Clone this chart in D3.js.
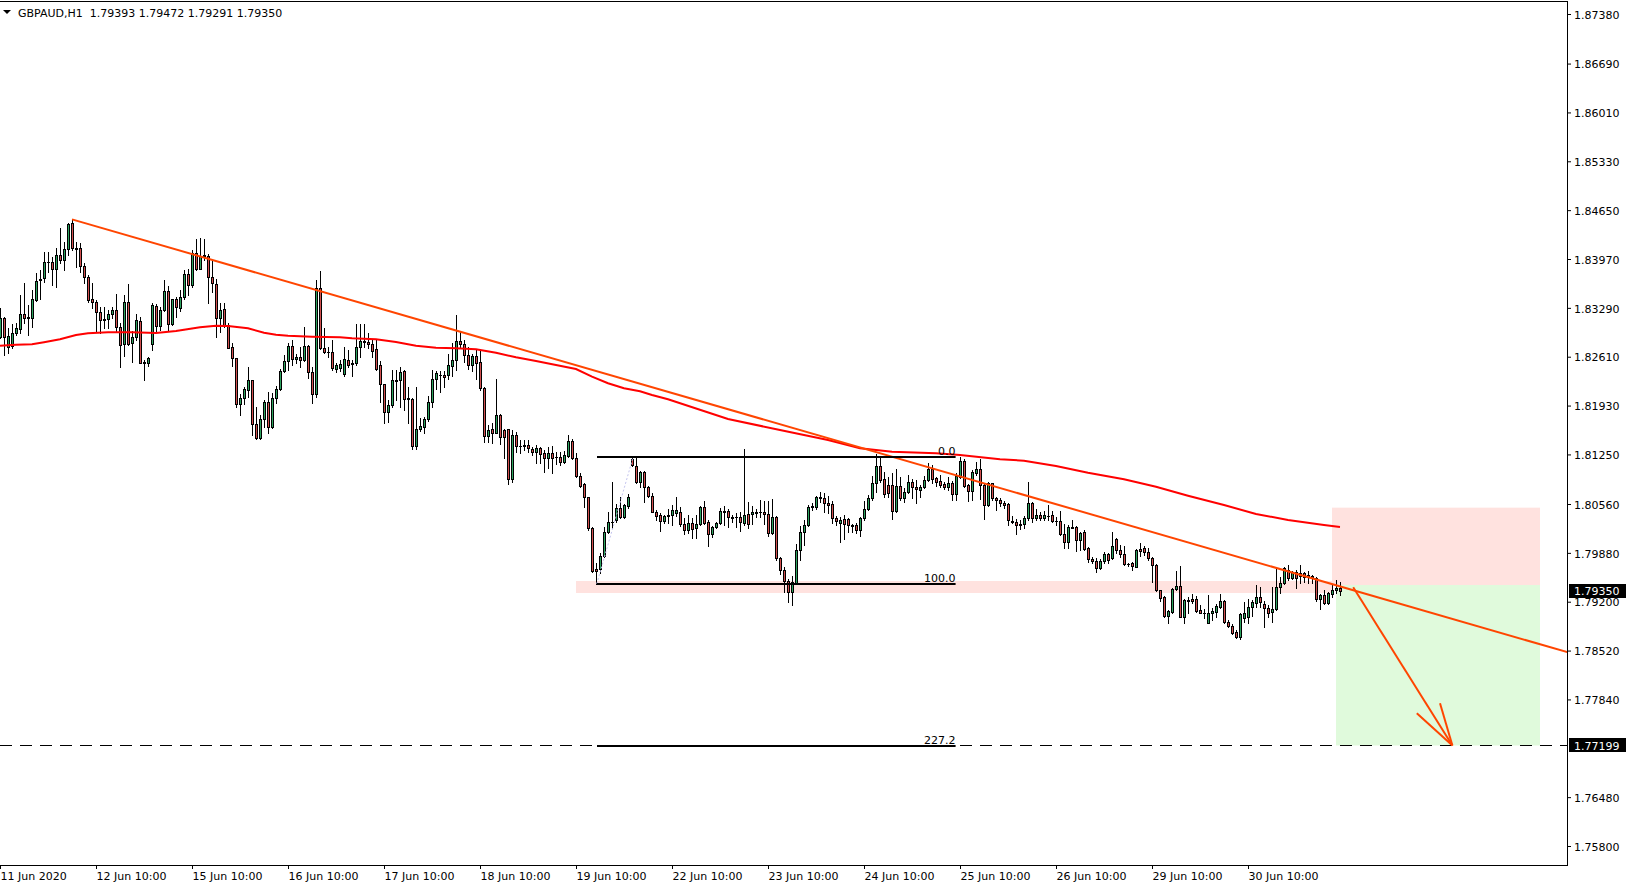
<!DOCTYPE html>
<html><head><meta charset="utf-8">
<script src="https://cdn.jsdelivr.net/npm/d3@7"></script>
<style>
html,body{margin:0;padding:0;background:#fff;overflow:hidden}
svg{display:block;font-family:"DejaVu Sans",Verdana,sans-serif;font-size:11px}
</style></head><body>
<svg id="chart" width="1628" height="888"></svg>
<script>
// ---------- DATA ----------
const symbolTitle = "GBPAUD,H1";
const lastOHLC = [1.79393, 1.79472, 1.79291, 1.79350];
const timeLabels = ["11 Jun 2020","12 Jun 10:00","15 Jun 10:00","16 Jun 10:00","17 Jun 10:00","18 Jun 10:00","19 Jun 10:00","22 Jun 10:00","23 Jun 10:00","24 Jun 10:00","25 Jun 10:00","26 Jun 10:00","29 Jun 10:00","30 Jun 10:00"];
const timeBars = [0,24,48,72,96,120,144,168,192,216,240,264,288,312];
const priceTicks = [1.87380,1.86690,1.86010,1.85330,1.84650,1.83970,1.83290,1.82610,1.81930,1.81250,1.80560,1.79880,1.79200,1.78520,1.77840,1.76480,1.75800];
// hourly candles [open, high, low, close]
const ohlc = [
[1.82879,1.83283,1.82865,1.83144],[1.83149,1.83167,1.82629,1.82889],[1.82749,1.83014,1.82657,1.82898],[1.82763,1.83065,1.82726,1.82935],[1.82935,1.83074,1.82912,1.83005],
[1.83000,1.83464,1.82935,1.83200],[1.83200,1.83631,1.83074,1.83153],[1.83155,1.83325,1.82916,1.83158],[1.83144,1.83538,1.83028,1.83408],[1.83399,1.83780,1.83390,1.83664],
[1.83677,1.83817,1.83413,1.83687],[1.83701,1.84067,1.83654,1.83923],[1.83933,1.84067,1.83793,1.83928],[1.83933,1.84002,1.83608,1.83826],[1.83826,1.84118,1.83575,1.84025],
[1.84021,1.84397,1.83909,1.83956],[1.83956,1.84211,1.83817,1.84104],[1.84104,1.84466,1.84025,1.84457],[1.84466,1.84522,1.84095,1.84118],[1.84128,1.84211,1.83863,1.84113],
[1.84118,1.84188,1.83793,1.83872],[1.83872,1.83909,1.83631,1.83714],[1.83714,1.83747,1.83376,1.83399],[1.83408,1.83631,1.83283,1.83367],[1.83367,1.83399,1.82949,1.83227],
[1.83227,1.83306,1.82935,1.83121],[1.83135,1.83306,1.83005,1.83121],[1.83135,1.83260,1.83005,1.83200],[1.83200,1.83306,1.83153,1.83255],[1.83255,1.83478,1.82958,1.83019],
[1.83019,1.83074,1.82462,1.82768],[1.82782,1.83469,1.82620,1.83367],[1.83367,1.83617,1.82773,1.82782],[1.82796,1.82968,1.82531,1.82884],[1.82879,1.83200,1.82842,1.83121],
[1.83111,1.83167,1.82517,1.82527],[1.82531,1.82564,1.82281,1.82522],[1.82517,1.82610,1.82485,1.82587],[1.82782,1.83353,1.82698,1.83325],[1.83316,1.83339,1.82968,1.83037],
[1.83037,1.83306,1.82981,1.83255],[1.83255,1.83677,1.83246,1.83524],[1.83524,1.83589,1.82968,1.83060],[1.83060,1.83413,1.83051,1.83413],[1.83413,1.83445,1.83167,1.83302],
[1.83292,1.83538,1.83246,1.83441],[1.83441,1.83817,1.83418,1.83756],[1.83756,1.83831,1.83469,1.83608],[1.83608,1.84095,1.83585,1.84058],[1.84058,1.84244,1.83821,1.83835],
[1.83835,1.84257,1.83830,1.84012],[1.84025,1.84244,1.83956,1.84012],[1.84012,1.84035,1.83353,1.83724],[1.83714,1.83956,1.83515,1.83631],[1.83617,1.83691,1.82889,1.83144],
[1.83153,1.83353,1.82958,1.83255],[1.83269,1.83353,1.83028,1.83051],[1.83051,1.83074,1.82726,1.82735],[1.82740,1.82796,1.82485,1.82587],[1.82587,1.82590,1.81905,1.81947],
[1.81947,1.82086,1.81794,1.82030],[1.82030,1.82193,1.81947,1.82156],[1.82142,1.82462,1.82053,1.82281],[1.82281,1.82285,1.81520,1.81673],[1.81673,1.81905,1.81460,1.81483],
[1.81483,1.81798,1.81469,1.81738],[1.81738,1.82007,1.81636,1.81984],[1.81984,1.82123,1.81552,1.81636],[1.81636,1.82100,1.81622,1.82030],[1.82030,1.82202,1.81961,1.82156],
[1.82156,1.82434,1.82146,1.82411],[1.82411,1.82633,1.82401,1.82545],[1.82545,1.82796,1.82425,1.82759],[1.82759,1.82842,1.82494,1.82573],[1.82573,1.82647,1.82517,1.82601],
[1.82601,1.82749,1.82471,1.82559],[1.82559,1.83028,1.82554,1.82759],[1.82759,1.82773,1.82309,1.82392],[1.82392,1.82471,1.81961,1.82086],[1.82086,1.83677,1.82053,1.83561],
[1.83561,1.83803,1.82712,1.82726],[1.82726,1.83005,1.82666,1.82670],[1.82680,1.82749,1.82610,1.82675],[1.82680,1.82842,1.82425,1.82448],[1.82440,1.82518,1.82402,1.82491],
[1.82449,1.82565,1.82416,1.82505],[1.82365,1.82741,1.82342,1.82574],[1.82565,1.82704,1.82472,1.82495],[1.82518,1.82565,1.82347,1.82514],[1.82518,1.83066,1.82495,1.82741],
[1.82750,1.83066,1.82611,1.82825],[1.82815,1.83066,1.82750,1.82825],[1.82820,1.82936,1.82727,1.82783],[1.82792,1.82843,1.82611,1.82695],[1.82713,1.82843,1.82426,1.82440],
[1.82491,1.82546,1.81985,1.82226],[1.82226,1.82230,1.81683,1.81846],[1.81846,1.82008,1.81706,1.81934],[1.81934,1.82426,1.81915,1.82282],[1.82282,1.82426,1.82008,1.82272],
[1.82282,1.82472,1.81915,1.82402],[1.82407,1.82426,1.81869,1.82027],[1.82031,1.82184,1.81683,1.82027],[1.82017,1.82031,1.81321,1.81372],[1.81372,1.82184,1.81326,1.81600],
[1.81600,1.81753,1.81577,1.81646],[1.81637,1.81767,1.81544,1.81739],[1.81739,1.82068,1.81720,1.81976],[1.81976,1.82426,1.81906,1.82296],[1.82296,1.82412,1.82157,1.82379],
[1.82351,1.82412,1.82124,1.82361],[1.82351,1.82412,1.82184,1.82333],[1.82351,1.82644,1.82305,1.82491],[1.82481,1.82797,1.82347,1.82565],[1.82565,1.83191,1.82426,1.82825],
[1.82825,1.82968,1.82750,1.82783],[1.82783,1.82843,1.82542,1.82630],[1.82630,1.82750,1.82435,1.82491],[1.82491,1.82648,1.82416,1.82621],[1.82621,1.82713,1.82296,1.82528],
[1.82537,1.82704,1.82147,1.82180],[1.82180,1.82194,1.81428,1.81507],[1.81507,1.81660,1.81428,1.81590],[1.81600,1.81683,1.81405,1.81544],[1.81553,1.82300,1.81544,1.81795],
[1.81795,1.81809,1.81391,1.81493],[1.81590,1.81600,1.81196,1.81493],[1.81600,1.81605,1.80834,1.80908],[1.80908,1.81590,1.80871,1.81521],[1.81521,1.81567,1.81289,1.81372],
[1.81372,1.81451,1.81266,1.81368],[1.81372,1.81451,1.81312,1.81377],[1.81377,1.81451,1.81289,1.81335],[1.81321,1.81358,1.81242,1.81280],[1.81289,1.81382,1.81126,1.81335],
[1.81335,1.81358,1.81136,1.81256],[1.81266,1.81312,1.81010,1.81196],[1.81196,1.81358,1.81057,1.81266],[1.81266,1.81368,1.80987,1.81201],[1.81215,1.81289,1.81113,1.81210],
[1.81215,1.81289,1.81103,1.81150],[1.81140,1.81303,1.81126,1.81242],[1.81233,1.81516,1.81219,1.81437],[1.81437,1.81461,1.81182,1.81196],[1.81196,1.81266,1.80941,1.80955],
[1.80955,1.80987,1.80792,1.80816],[1.80839,1.80857,1.80523,1.80653],[1.80653,1.80662,1.80198,1.80222],[1.80222,1.80245,1.79620,1.79632],[1.79656,1.79734,1.79449,1.79632],
[1.79651,1.79874,1.79605,1.79841],[1.79841,1.80245,1.79827,1.80166],[1.80166,1.80444,1.80152,1.80305],[1.80305,1.80871,1.80222,1.80314],[1.80338,1.80560,1.80314,1.80500],
[1.80500,1.80662,1.80361,1.80375],[1.80375,1.80560,1.80361,1.80542],[1.80537,1.80700,1.80500,1.80653],[1.81182,1.81219,1.81094,1.81103],[1.81094,1.81196,1.80857,1.80871],
[1.80871,1.81024,1.80802,1.81010],[1.81010,1.81024,1.80593,1.80802],[1.80802,1.80811,1.80662,1.80676],[1.80676,1.80709,1.80444,1.80454],[1.80454,1.80477,1.80338,1.80393],
[1.80407,1.80431,1.80189,1.80328],[1.80328,1.80407,1.80301,1.80393],[1.80403,1.80486,1.80301,1.80398],[1.80407,1.80546,1.80268,1.80476],[1.80439,1.80662,1.80393,1.80476],
[1.80453,1.80523,1.80258,1.80277],[1.80277,1.80360,1.80138,1.80198],[1.80198,1.80407,1.80152,1.80291],[1.80291,1.80360,1.80091,1.80212],[1.80221,1.80407,1.80082,1.80277],
[1.80277,1.80532,1.80268,1.80514],[1.80523,1.80602,1.80277,1.80291],[1.80305,1.80337,1.79980,1.80138],[1.80138,1.80254,1.80105,1.80235],[1.80235,1.80314,1.80230,1.80291],
[1.80291,1.80500,1.80277,1.80463],[1.80463,1.80532,1.80268,1.80449],[1.80463,1.80486,1.80244,1.80384],[1.80384,1.80407,1.80314,1.80360],[1.80386,1.80439,1.80244,1.80382],
[1.80384,1.80453,1.80189,1.80309],[1.80291,1.81326,1.80268,1.80407],[1.80421,1.80592,1.80221,1.80286],[1.80421,1.80532,1.80282,1.80444],[1.80439,1.80486,1.80384,1.80449],
[1.80449,1.80616,1.80374,1.80446],[1.80444,1.80602,1.80282,1.80416],[1.80421,1.80606,1.80115,1.80152],[1.80152,1.80625,1.80142,1.80374],[1.80374,1.80393,1.79780,1.79804],
[1.79804,1.79827,1.79586,1.79641],[1.79641,1.79678,1.79340,1.79493],[1.79493,1.79516,1.79200,1.79340],[1.79340,1.79562,1.79154,1.79470],[1.79456,1.79999,1.79446,1.79920],
[1.79920,1.80254,1.79780,1.80175],[1.80175,1.80337,1.79989,1.80268],[1.80268,1.80546,1.80258,1.80523],[1.80523,1.80569,1.80476,1.80527],[1.80514,1.80676,1.80486,1.80653],
[1.80653,1.80727,1.80583,1.80648],[1.80639,1.80708,1.80453,1.80569],[1.80569,1.80671,1.80430,1.80546],[1.80560,1.80602,1.80300,1.80360],[1.80360,1.80393,1.80268,1.80328],
[1.80291,1.80374,1.80026,1.80337],[1.80347,1.80407,1.80068,1.80282],[1.80347,1.80360,1.80175,1.80268],[1.80268,1.80282,1.80175,1.80254],[1.80268,1.80300,1.80152,1.80198],
[1.80198,1.80374,1.80115,1.80360],[1.80360,1.80602,1.80337,1.80495],[1.80495,1.80685,1.80476,1.80639],[1.80639,1.80950,1.80616,1.80857],[1.80857,1.81256,1.80732,1.81089],
[1.81089,1.81196,1.80871,1.80894],[1.80903,1.81010,1.80662,1.80699],[1.80824,1.80940,1.80662,1.80708],[1.80824,1.80987,1.80347,1.80463],[1.80463,1.81043,1.80453,1.80811],
[1.80811,1.80940,1.80616,1.80648],[1.80639,1.80778,1.80592,1.80732],[1.80732,1.80964,1.80708,1.80871],[1.80871,1.80903,1.80639,1.80801],[1.80801,1.80894,1.80579,1.80764],
[1.80755,1.80824,1.80662,1.80792],[1.80792,1.80950,1.80778,1.80894],[1.80894,1.81126,1.80885,1.81043],[1.81043,1.81103,1.80857,1.80903],[1.80917,1.80940,1.80811,1.80871],
[1.80885,1.80964,1.80801,1.80824],[1.80838,1.80871,1.80764,1.80792],[1.80792,1.80940,1.80755,1.80848],[1.80848,1.80885,1.80616,1.80699],[1.80699,1.80996,1.80616,1.80950],
[1.80940,1.81210,1.80917,1.81163],[1.81163,1.81182,1.80792,1.80811],[1.80824,1.80838,1.80606,1.80746],[1.80746,1.81033,1.80616,1.81010],[1.80996,1.81149,1.80964,1.81047],
[1.81047,1.81182,1.80625,1.80824],[1.80824,1.80848,1.80347,1.80546],[1.80546,1.80871,1.80537,1.80848],[1.80848,1.80857,1.80616,1.80639],[1.80639,1.80653,1.80477,1.80611],
[1.80616,1.80639,1.80532,1.80569],[1.80579,1.80602,1.80500,1.80546],[1.80556,1.80569,1.80268,1.80337],[1.80324,1.80393,1.80291,1.80314],[1.80314,1.80347,1.80143,1.80268],
[1.80282,1.80337,1.80208,1.80263],[1.80277,1.80393,1.80221,1.80361],[1.80361,1.80866,1.80337,1.80569],[1.80579,1.80593,1.80314,1.80370],[1.80370,1.80486,1.80337,1.80407],
[1.80407,1.80453,1.80337,1.80370],[1.80370,1.80467,1.80337,1.80407],[1.80393,1.80546,1.80337,1.80390],[1.80407,1.80467,1.80314,1.80324],[1.80324,1.80384,1.80268,1.80321],
[1.80324,1.80467,1.80129,1.80138],[1.80138,1.80277,1.79943,1.80027],[1.80027,1.80268,1.79943,1.80235],[1.80235,1.80337,1.80221,1.80232],[1.80235,1.80254,1.79910,1.80059],
[1.80059,1.80175,1.79920,1.80161],[1.80175,1.80198,1.79920,1.79929],[1.79943,1.79957,1.79757,1.79790],[1.79795,1.79827,1.79734,1.79771],[1.79767,1.79804,1.79609,1.79665],
[1.79665,1.79790,1.79651,1.79767],[1.79767,1.79897,1.79734,1.79860],[1.79864,1.79883,1.79744,1.79781],[1.79804,1.80175,1.79790,1.79980],[1.80073,1.80082,1.79873,1.79920],
[1.79920,1.79989,1.79818,1.79860],[1.79864,1.79975,1.79711,1.79720],[1.79730,1.79744,1.79702,1.79727],[1.79734,1.79757,1.79641,1.79697],[1.79688,1.79929,1.79679,1.79920],
[1.79934,1.80022,1.79836,1.79906],[1.79943,1.79975,1.79850,1.79897],[1.79897,1.79943,1.79781,1.79813],[1.79813,1.79827,1.79479,1.79706],[1.79706,1.79725,1.79354,1.79363],
[1.79363,1.79365,1.79215,1.79247],[1.79261,1.79279,1.78992,1.79001],[1.79006,1.79085,1.78908,1.79071],[1.79061,1.79386,1.79038,1.79377],[1.79372,1.79627,1.79363,1.79419],
[1.79419,1.79697,1.78983,1.78992],[1.78992,1.79233,1.78908,1.79224],[1.79215,1.79261,1.79038,1.79218],[1.79233,1.79307,1.79187,1.79210],[1.79233,1.79279,1.79061,1.79075],
[1.79085,1.79154,1.79038,1.79048],[1.79048,1.79094,1.78969,1.79038],[1.78908,1.79289,1.78905,1.79048],[1.79038,1.79108,1.78945,1.79071],[1.79061,1.79168,1.78992,1.79145],
[1.79131,1.79307,1.79108,1.79205],[1.79210,1.79224,1.78908,1.78922],[1.78922,1.78945,1.78853,1.78867],[1.78867,1.78890,1.78751,1.78760],[1.78778,1.78806,1.78690,1.78713],
[1.78713,1.79048,1.78676,1.79029],[1.78978,1.79201,1.78922,1.79048],[1.78983,1.79233,1.78908,1.79131],[1.79122,1.79224,1.79001,1.79191],[1.79177,1.79428,1.79131,1.79270],
[1.79270,1.79400,1.79131,1.79191],[1.79168,1.79215,1.78843,1.79108],[1.79108,1.79154,1.78983,1.79038],[1.79052,1.79400,1.78922,1.79099],[1.79094,1.79655,1.79085,1.79409],
[1.79400,1.79539,1.79317,1.79465],[1.79456,1.79679,1.79447,1.79665],[1.79641,1.79711,1.79502,1.79525],[1.79525,1.79632,1.79512,1.79618],[1.79618,1.79641,1.79386,1.79535],
[1.79595,1.79711,1.79456,1.79558],[1.79604,1.79618,1.79479,1.79549],[1.79572,1.79627,1.79456,1.79539],[1.79558,1.79572,1.79456,1.79525],[1.79535,1.79549,1.79215,1.79233],
[1.79238,1.79307,1.79094,1.79293],[1.79293,1.79363,1.79168,1.79177],[1.79177,1.79340,1.79168,1.79317],[1.79307,1.79447,1.79270,1.79363],[1.79358,1.79502,1.79317,1.79395],
[1.79393,1.79472,1.79291,1.79350]
];
// 200-period moving average, sampled at bars
const maBars   = [0,4,8,11,15,19,22,27,33,39,44,50,54,57,62,66,69,72,78,85,88,94,99,104,109,114,119,124,129,134,139,144,148,152,156,160,163,167,182,195,207,215,223,234,240,250,256,264,272,281,289,297,306,314,322,331,335];
const maValues = [1.82763,1.82777,1.82783,1.82811,1.82852,1.82912,1.82936,1.82950,1.82950,1.82940,1.82968,1.83019,1.83042,1.83038,1.83006,1.82944,1.82917,1.82903,1.82889,1.82880,1.82866,1.82852,1.82815,1.82763,1.82736,1.82727,1.82713,1.82666,1.82602,1.82550,1.82495,1.82439,1.82332,1.82240,1.82171,1.82129,1.82077,1.82017,1.81743,1.81590,1.81451,1.81335,1.81288,1.81266,1.81242,1.81182,1.81163,1.81089,1.80996,1.80904,1.80801,1.80676,1.80546,1.80421,1.80338,1.80268,1.80240];
// drawn objects
const trendBars = [18, 392], trendPrices = [1.84522, 1.78495];
const fibBars = [149.25, 238.9], fibAnchorBars = [149.2, 158.3];
const fibPrices = [1.81219, 1.79449]; // level 0.0 , level 100.0
const fibLevels = [0, 100, 227.2];
const zoneBars = [144, 333], zonePrices = [1.79488, 1.79321];
const stopBars = [333, 385], stopPrices = [1.80509, 1.79433];
const targetBars = [334, 385], targetPrices = [1.79433, 1.77199];
const targetLine = 1.77199;
const arrowBars = [338.3, 363.1], arrowPrices = [1.79401, 1.77199];
const arrowWingBars = [354.2, 360], arrowWingPrices = [1.77647, 1.77786];

// ---------- LAYOUT ----------
const plotR = 1567, plotB = 865, plotT = 1.5;
const x = d3.scaleLinear().domain([0, 391.75]).range([0, plotR]);
const y = d3.scaleLinear().domain([1.75800, 1.87380]).range([846, 14]);
const svg = d3.select('#chart');
const FONT = '"DejaVu Sans",Verdana,sans-serif';

svg.append('rect').attr('width',1628).attr('height',888).attr('fill','#fff');
svg.append('defs').append('clipPath').attr('id','clip')
  .append('rect').attr('x',0).attr('y',plotT).attr('width',plotR).attr('height',plotB-plotT);
const plot = svg.append('g').attr('clip-path','url(#clip)');

// background rectangles
function box(bars, prices, fill){
  const y0 = y(d3.max(prices)), y1 = y(d3.min(prices));
  plot.append('rect').attr('x',x(bars[0])).attr('width',x(bars[1])-x(bars[0]))
    .attr('y',y0).attr('height',y1-y0).attr('fill',fill);
}
box(zoneBars, zonePrices, '#ffe2df');
box(stopBars, stopPrices, '#ffe2df');
box(targetBars, targetPrices, '#e0fadc');

// dashed target line
plot.append('line').attr('x1',0).attr('x2',plotR)
  .attr('y1',Math.round(y(targetLine))+0.5).attr('y2',Math.round(y(targetLine))+0.5)
  .attr('stroke','#000').attr('stroke-width',1).attr('stroke-dasharray','12,8');

// candles
const cg = plot.append('g').attr('shape-rendering','crispEdges');
const GREEN = '#2ca35f', RED = '#d24f4f';
ohlc.forEach((d,i)=>{
  const [o,h,l,c] = d;
  const cx = Math.round(x(i));
  cg.append('line').attr('x1',cx+0.5).attr('x2',cx+0.5)
    .attr('y1',Math.round(y(h))).attr('y2',Math.round(y(l))+1)
    .attr('stroke','#000').attr('stroke-width',1);
  const top = Math.round(Math.min(y(o),y(c))), bot = Math.round(Math.max(y(o),y(c)));
  if (bot - top < 1) {
    cg.append('line').attr('x1',cx-1).attr('x2',cx+2).attr('y1',top+0.5).attr('y2',top+0.5)
      .attr('stroke','#000').attr('stroke-width',1);
  } else {
    cg.append('rect').attr('x',cx-0.5).attr('y',top+0.5).attr('width',2).attr('height',bot-top)
      .attr('fill', c >= o ? GREEN : RED).attr('stroke','#000').attr('stroke-width',1);
  }
});

// moving average
plot.append('path').datum(maBars.map((b,i)=>[b,maValues[i]]))
  .attr('d', d3.line().x(d=>x(d[0])).y(d=>y(d[1])))
  .attr('fill','none').attr('stroke','#ff0000').attr('stroke-width',2);

// trend line
plot.append('line').attr('x1',x(trendBars[0])).attr('y1',y(trendPrices[0]))
  .attr('x2',x(trendBars[1])).attr('y2',y(trendPrices[1]))
  .attr('stroke','#ff4500').attr('stroke-width',2);

// fibonacci expansion
plot.append('line').attr('x1',x(fibAnchorBars[0])).attr('y1',y(fibPrices[1]))
  .attr('x2',x(fibAnchorBars[1])).attr('y2',y(fibPrices[0]))
  .attr('stroke','#c4c4ee').attr('stroke-width',1).attr('stroke-dasharray','2,2');
fibLevels.forEach(lv=>{
  const p = fibPrices[0] + (fibPrices[1]-fibPrices[0])*lv/100;
  const ly = Math.round(y(p));
  plot.append('line').attr('x1',x(fibBars[0])).attr('x2',x(fibBars[1]))
    .attr('y1',ly).attr('y2',ly).attr('stroke','#000').attr('stroke-width',2);
  plot.append('text').attr('x',x(fibBars[1])).attr('y',ly-2).attr('text-anchor','end')
    .attr('font-family',FONT).attr('font-size',11).attr('fill','#000').text(lv.toFixed(1));
});

// arrow
const tipX = x(arrowBars[1]), tipY = y(arrowPrices[1]);
plot.append('line').attr('x1',x(arrowBars[0])).attr('y1',y(arrowPrices[0]))
  .attr('x2',tipX).attr('y2',tipY).attr('stroke','#ff4500').attr('stroke-width',2);
arrowWingBars.forEach((b,i)=>{
  plot.append('line').attr('x1',tipX).attr('y1',tipY)
    .attr('x2',x(b)).attr('y2',y(arrowWingPrices[i])).attr('stroke','#ff4500').attr('stroke-width',2);
});

// axes
const ya = svg.append('g').attr('transform',`translate(${plotR},0)`)
  .call(d3.axisRight(y).tickValues(priceTicks).tickSize(4).tickPadding(3).tickFormat(d=>d.toFixed(5)));
ya.select('.domain').remove();
ya.attr('font-family',FONT).attr('font-size',11);
ya.selectAll('text').attr('fill','#000').attr('dy','0.38em');
ya.selectAll('line').attr('stroke','#000');

const xa = svg.append('g').attr('transform',`translate(0,${plotB})`)
  .call(d3.axisBottom(x).tickValues(timeBars).tickSize(4).tickPadding(3).tickFormat((d,i)=>timeLabels[i]));
xa.select('.domain').remove();
xa.attr('font-family',FONT).attr('font-size',11);
xa.selectAll('text').attr('fill','#000').attr('text-anchor','start');
xa.selectAll('line').attr('stroke','#000');

// frame
const fr = svg.append('g').attr('stroke','#000').attr('stroke-width',1).attr('shape-rendering','crispEdges');
fr.append('line').attr('x1',0).attr('x2',plotR+0.5).attr('y1',1.5).attr('y2',1.5);
fr.append('line').attr('x1',plotR+0.5).attr('x2',plotR+0.5).attr('y1',1.5).attr('y2',plotB+0.5);
fr.append('line').attr('x1',0).attr('x2',plotR+0.5).attr('y1',plotB+0.5).attr('y2',plotB+0.5);

// price label boxes
[lastOHLC[3], targetLine].forEach(v=>{
  const cy = y(v);
  svg.append('rect').attr('x',1569).attr('y',Math.round(cy)-7).attr('width',57).attr('height',14).attr('fill','#000');
  svg.append('text').attr('x',1574).attr('y',cy).attr('dy','0.38em')
    .attr('font-family',FONT).attr('font-size',11).attr('fill','#fff').text(v.toFixed(5));
});

// title
svg.append('path').attr('d','M3,10 L11,10 L7,14 Z').attr('fill','#000');
svg.append('text').attr('x',18).attr('y',16.5).attr('font-family',FONT).attr('font-size',11)
  .attr('fill','#000').style('white-space','pre')
  .text(`${symbolTitle}  ${lastOHLC.map(v=>v.toFixed(5)).join(' ')}`);
</script>
</body></html>
